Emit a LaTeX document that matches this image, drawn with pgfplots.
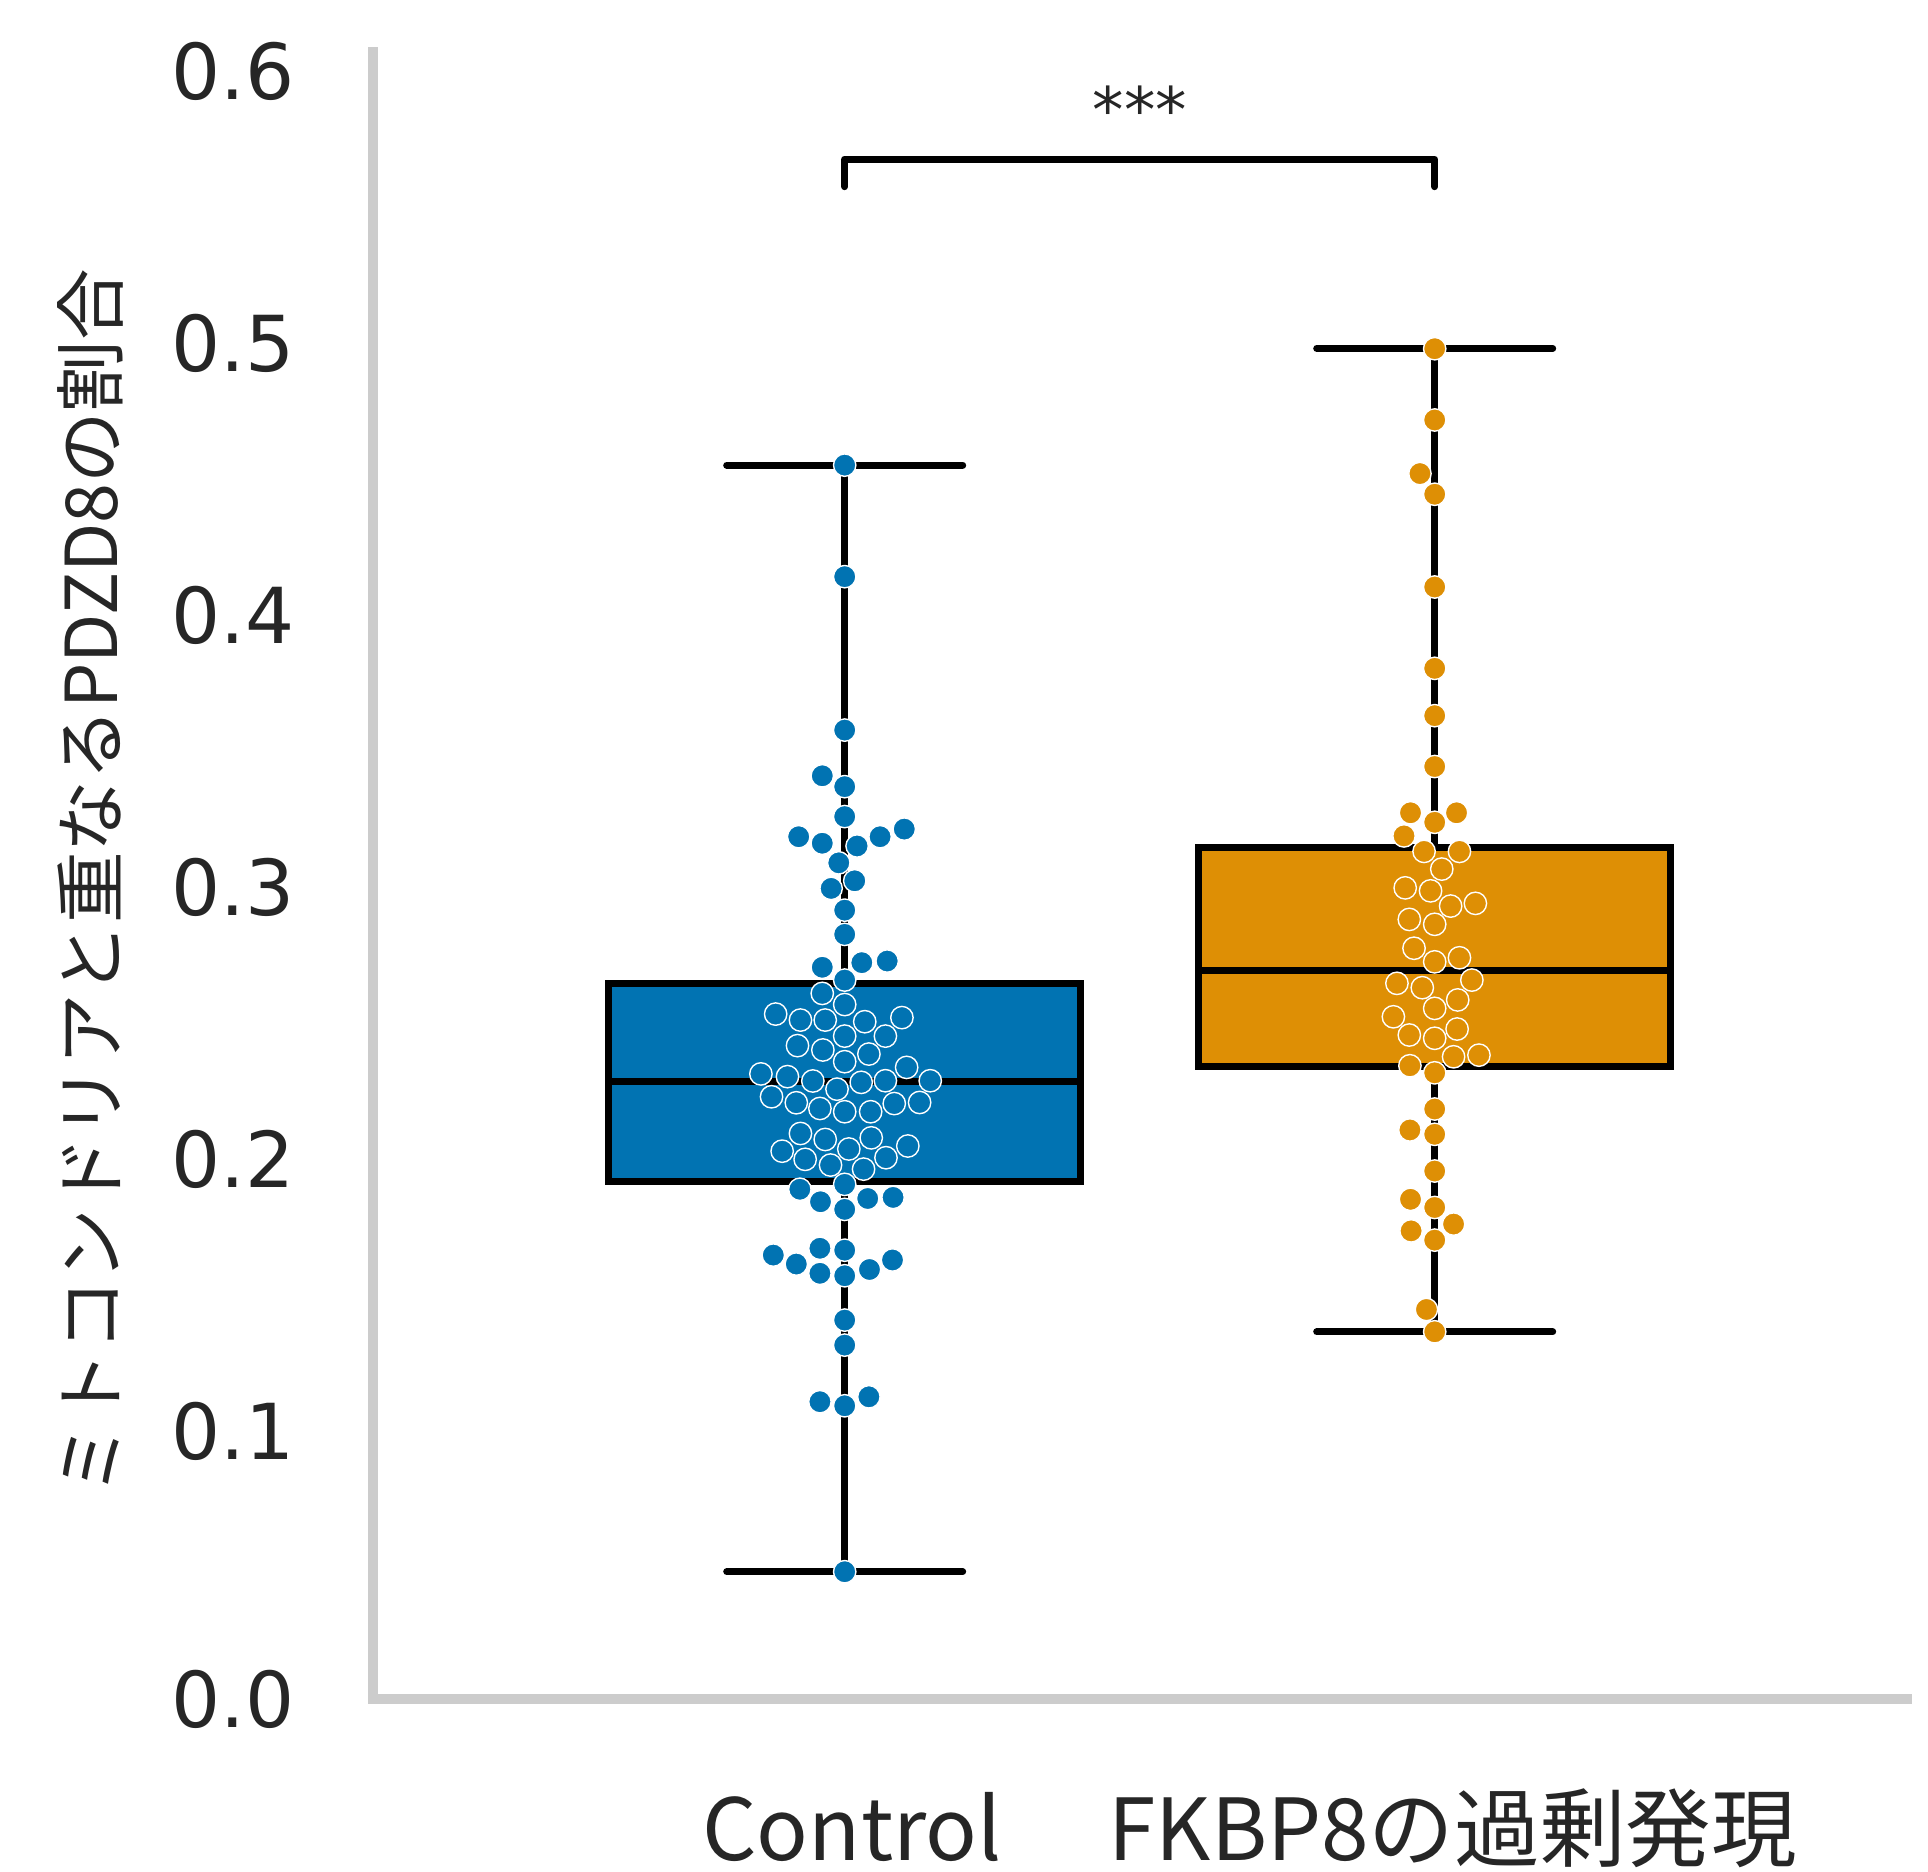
\documentclass[border=0pt]{standalone}
\usepackage{fontspec}
\setmainfont{DejaVu Sans}
\newfontfamily\jp{Noto Sans CJK JP}
\usepackage{pgfplots}
\pgfplotsset{compat=1.18}
\definecolor{cblue}{HTML}{0173B2}
\definecolor{corange}{HTML}{DE8F05}
\definecolor{spine}{HTML}{CCCCCC}
\definecolor{txt}{HTML}{262626}
\begin{document}
\begin{tikzpicture}
\begin{axis}[
  at={(0,0)}, anchor=south west,
  scale only axis, width=383.5pt, height=411.9pt,
  xmin=-0.8, xmax=1.8, ymin=0.0014, ymax=0.6071,
  axis x line*=bottom, axis y line*=left,
  axis line style={draw=spine, line width=2.5pt, line cap=rect, -},
  every outer x axis line/.append style={-},
  every outer y axis line/.append style={-},
  xtick={0,1}, xticklabels={{\hspace*{3.7pt}Control}, {\hspace*{9pt}FKBP8の過剰発現}},
  ytick={0.0014,0.1,0.2,0.3,0.4,0.5,0.6},
  yticklabels={0.0,0.1,0.2,0.3,0.4,0.5,0.6},
  major tick length=0pt, tick style={draw=none},
  yticklabel style={font=\fontsize{19.3}{23}\selectfont, text=txt, anchor=east, inner sep=0pt, xshift=-19.4pt},
  xticklabel style={font=\jp\fontsize{21.4}{26}\selectfont, text=txt, anchor=base, inner sep=0pt, yshift=-40.4pt},
  clip=false,
]
% whiskers and caps
\addplot[black, line width=1.75pt] coordinates {(0,0.0483) (0,0.1917)};
\addplot[black, line width=1.75pt] coordinates {(0,0.2646) (0,0.4551)};
\addplot[black, line width=1.75pt, line cap=round] coordinates {(-0.2,0.0483) (0.2,0.0483)};
\addplot[black, line width=1.75pt, line cap=round] coordinates {(-0.2,0.4551) (0.2,0.4551)};
\addplot[black, line width=1.75pt] coordinates {(1,0.1365) (1,0.2339)};
\addplot[black, line width=1.75pt] coordinates {(1,0.3144) (1,0.4980)};
\addplot[black, line width=1.75pt, line cap=round] coordinates {(0.8,0.1365) (1.2,0.1365)};
\addplot[black, line width=1.75pt, line cap=round] coordinates {(0.8,0.4980) (1.2,0.4980)};
% boxes
\addplot[fill=cblue, draw=black, line width=1.75pt, line join=miter] coordinates {(-0.4,0.1917) (0.4,0.1917) (0.4,0.2646) (-0.4,0.2646)} -- cycle;
\addplot[black, line width=1.75pt] coordinates {(-0.4,0.2284) (0.4,0.2284)};
\addplot[fill=corange, draw=black, line width=1.75pt, line join=miter] coordinates {(0.6,0.2339) (1.4,0.2339) (1.4,0.3144) (0.6,0.3144)} -- cycle;
\addplot[black, line width=1.75pt] coordinates {(0.6,0.2692) (1.4,0.2692)};
% swarm points Control
\addplot[only marks, mark=*, mark size=2.8pt, mark options={fill=cblue, draw=white, line width=0.35pt}] coordinates {
(0,0.4551) (0,0.4141) (0,0.3577) (-0.038,0.3409) (0,0.3369) (0,0.3259)
(-0.078,0.3185) (-0.038,0.3161) (0.021,0.3151) (0.060,0.3185) (0.101,0.3213)
(-0.010,0.3089) (0.017,0.3023) (-0.023,0.2995) (0,0.2915) (0,0.2826)
(-0.038,0.2705) (0.029,0.2722) (0.072,0.2728) (0,0.2658) (-0.038,0.2609) (0,0.2568)
(-0.117,0.2533) (-0.075,0.2511) (-0.033,0.2511) (0.034,0.2505) (0.097,0.2520)
(0,0.2452) (0.069,0.2452) (-0.080,0.2417) (-0.037,0.2401) (0.041,0.2386) (0,0.2358)
(-0.142,0.2313) (-0.097,0.2303) (-0.054,0.2287) (-0.013,0.2257) (0.028,0.2282)
(0.069,0.2288) (0.105,0.2337) (0.145,0.2288)
(-0.124,0.2229) (-0.082,0.2207) (-0.042,0.2186) (0,0.2174) (0.044,0.2174)
(0.084,0.2204) (0.127,0.2208)
(-0.075,0.2094) (-0.033,0.2072) (0.045,0.2078) (0.107,0.2048) (-0.106,0.2029)
(0.007,0.2037) (-0.067,0.1999) (-0.024,0.1978) (0.070,0.2005) (0.032,0.1963)
(0,0.1907) (-0.076,0.1889) (-0.041,0.1843) (0,0.1815) (0.039,0.1855) (0.082,0.1859)
(-0.121,0.1647) (-0.082,0.1614) (-0.042,0.1672) (0,0.1665) (-0.042,0.1580)
(0,0.1571) (0.042,0.1594) (0.081,0.1629)
(0,0.1408) (0,0.1316) (-0.042,0.1108) (0,0.1093) (0.041,0.1126) (0,0.0483)
};
% swarm points FKBP8
\addplot[only marks, mark=*, mark size=2.8pt, mark options={fill=corange, draw=white, line width=0.35pt}] coordinates {
(1,0.4979) (1,0.4717) (0.975,0.4520) (1,0.4444) (1,0.4103) (1,0.3804)
(1,0.3630) (1,0.3443) (0.959,0.3273) (1.037,0.3273) (1,0.3238)
(0.948,0.3188) (0.982,0.3131) (1.042,0.3131) (1.012,0.3066)
(0.950,0.2997) (0.993,0.2986) (1.027,0.2930) (1.069,0.2940)
(0.957,0.2881) (1,0.2863) (0.965,0.2775) (1,0.2725) (1.042,0.2740)
(0.936,0.2646) (0.979,0.2630) (1.063,0.2658) (1.039,0.2585) (1,0.2554)
(0.930,0.2523) (0.957,0.2456) (1,0.2444) (1.038,0.2478) (1.032,0.2376)
(1.075,0.2382) (0.958,0.2343) (1,0.2317)
(1,0.2184) (0.958,0.2107) (1,0.2091) (1,0.1956) (0.959,0.1852) (1,0.1822)
(1.032,0.1761) (0.960,0.1736) (1,0.1702) (0.986,0.1447) (1,0.1365)
};
% significance bracket
\addplot[black, line width=1.8pt, line cap=round, line join=round] coordinates {(0,0.5575) (0,0.5676) (1,0.5676) (1,0.5575)};
\node[anchor=base, font=\fontsize{15.7}{19}\selectfont, text=txt, inner sep=0pt] at (axis cs:0.5,0.5774) {***};
\end{axis}
\node[rotate=90, font=\jp\fontsize{17.9}{21}\selectfont, text=txt, inner sep=0pt] at (-70.6pt,204.3pt) {ミトコンドリアと重なるPDZD8の割合};
\pgfresetboundingbox
\path[use as bounding box] (-93.175pt,-43.175pt) rectangle (388.825pt,424.825pt);
\end{tikzpicture}
\end{document}
